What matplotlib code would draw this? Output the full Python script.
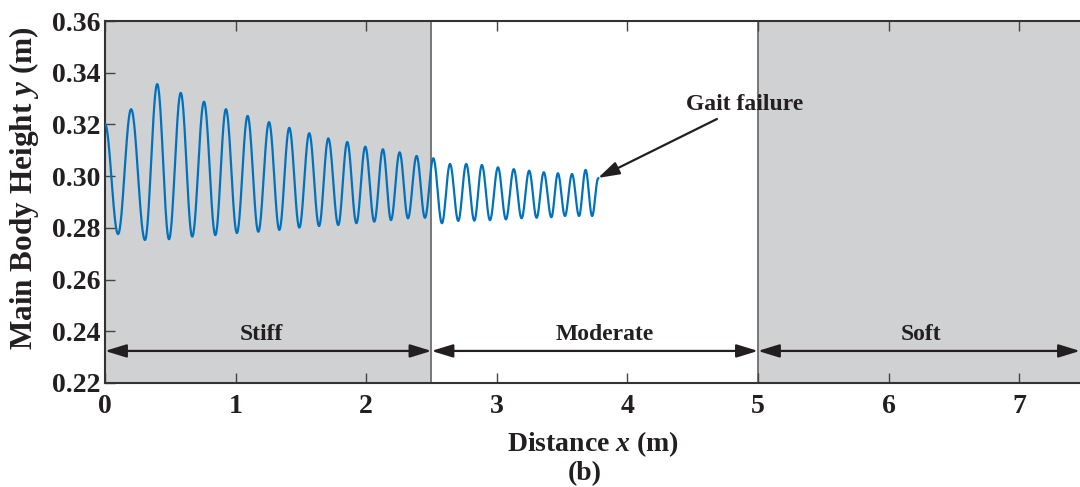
import numpy as np
import matplotlib.pyplot as plt

plt.rcParams['font.family'] = ['Liberation Serif', 'DejaVu Serif']
plt.rcParams['font.weight'] = 'bold'
plt.rcParams['mathtext.fontset'] = 'custom'
plt.rcParams['mathtext.it'] = 'Liberation Serif:italic:bold'

# Extrema of the main body height trace (x in m, y in m)
ext_x = [0.0, 0.10, 0.20, 0.306, 0.40, 0.49, 0.58, 0.668, 0.758, 0.845, 0.926,
         1.01, 1.092, 1.174, 1.256, 1.335, 1.411, 1.488, 1.564, 1.639, 1.71,
         1.786, 1.855, 1.925, 1.993, 2.062, 2.128, 2.19, 2.256, 2.32, 2.386,
         2.45, 2.514, 2.58, 2.642, 2.705, 2.766, 2.828, 2.886, 2.948, 3.009,
         3.07, 3.13, 3.19, 3.248, 3.305, 3.36, 3.418, 3.468, 3.522, 3.576,
         3.63, 3.68, 3.73, 3.777]
ext_y = [0.3202, 0.2776, 0.3259, 0.2753, 0.3356, 0.2756, 0.3322, 0.2766, 0.3288,
         0.2772, 0.3259, 0.2780, 0.3233, 0.2785, 0.3209, 0.2792, 0.3187, 0.2801,
         0.3166, 0.2807, 0.3146, 0.2811, 0.3132, 0.2818, 0.3114, 0.2824, 0.3104,
         0.2830, 0.3092, 0.2837, 0.3078, 0.2839, 0.3069, 0.2818, 0.3047, 0.2827,
         0.3047, 0.2828, 0.3043, 0.2830, 0.3034, 0.2833, 0.3027, 0.2837, 0.3021,
         0.2839, 0.3015, 0.2841, 0.3011, 0.2846, 0.3008, 0.2846, 0.3024, 0.2846,
         0.2992]

# Terrain regions
regions = ['Stiff', 'Moderate', 'Soft']
bounds = [0.0, 2.5, 5.0, 7.466]
label_x = [1.20, 3.83, 6.25]
shaded = [True, False, True]

# smooth half-cosine between consecutive extrema
xs, ys = [], []
for i in range(len(ext_x) - 1):
    t = np.linspace(0, 1, 30, endpoint=False)
    w = (1 - np.cos(np.pi * t)) / 2
    xs.append(ext_x[i] + (ext_x[i + 1] - ext_x[i]) * t)
    ys.append(ext_y[i] + (ext_y[i + 1] - ext_y[i]) * w)
xs.append([ext_x[-1]])
ys.append([ext_y[-1]])
xs = np.concatenate(xs)
ys = np.concatenate(ys)

txt = '#231f20'
fig = plt.figure(figsize=(10.8, 4.87), dpi=100)
ax = fig.add_axes([105 / 1080, 1 - 383 / 487, 975 / 1080, 362 / 487])

for i, name in enumerate(regions):
    if shaded[i]:
        ax.axvspan(bounds[i], bounds[i + 1], color='#d0d1d3', lw=0, zorder=0)
for b in bounds[1:3]:
    ax.axvline(b, color='#6e6e6e', lw=1.3, zorder=1)

ax.plot(xs, ys, color='#0072bd', lw=1.6, zorder=3)

arrow_y = 0.2324
for i, name in enumerate(regions):
    ax.annotate('', xy=(bounds[i + 1], arrow_y), xytext=(bounds[i], arrow_y),
                arrowprops=dict(arrowstyle='<|-|>,head_length=1.3,head_width=0.4',
                                color=txt, lw=1.6, shrinkA=0, shrinkB=0))
    ax.text(label_x[i], 0.2388, name, ha='center', va='center',
            fontsize=17, fontweight='bold', color=txt)

ax.text(4.90, 0.3279, 'Gait failure', ha='center', va='center',
        fontsize=17, fontweight='bold', color=txt)
ax.annotate('', xy=(3.775, 0.2993), xytext=(4.686, 0.3221),
            arrowprops=dict(arrowstyle='-|>,head_length=1.3,head_width=0.4',
                            color=txt, lw=1.6, shrinkA=0, shrinkB=0))

ax.set_xlim(0, bounds[-1])
ax.set_ylim(0.22, 0.36)
ax.set_xticks(range(0, 8))
ax.set_yticks(np.arange(0.22, 0.361, 0.02))
ax.set_yticklabels([f'{v:.2f}' for v in np.arange(0.22, 0.361, 0.02)])
ax.tick_params(direction='in', length=7, width=1, color='#444444', top=True,
               labelsize=20, labelcolor=txt)
ax.tick_params(axis='y', pad=3)
ax.tick_params(axis='x', pad=8)
for lab in ax.get_xticklabels() + ax.get_yticklabels():
    lab.set_fontweight('bold')
ax.spines['right'].set_visible(False)
for s in ['left', 'top', 'bottom']:
    ax.spines[s].set_color('#333333')
    ax.spines[s].set_linewidth(1.5)

ax.set_xlabel('Distance $x$ (m)', fontsize=20, fontweight='bold', color=txt, labelpad=7)
ax.set_ylabel('Main Body Height $y$ (m)', fontsize=22.5, fontweight='bold', color=txt)
ax.yaxis.set_label_coords(-0.066, 0.539)
fig.text(585 / 1080, 1 - 474 / 487, '(b)', ha='center', va='center',
         fontsize=20, fontweight='bold', color=txt)

fig.savefig('out.png', dpi=100)
